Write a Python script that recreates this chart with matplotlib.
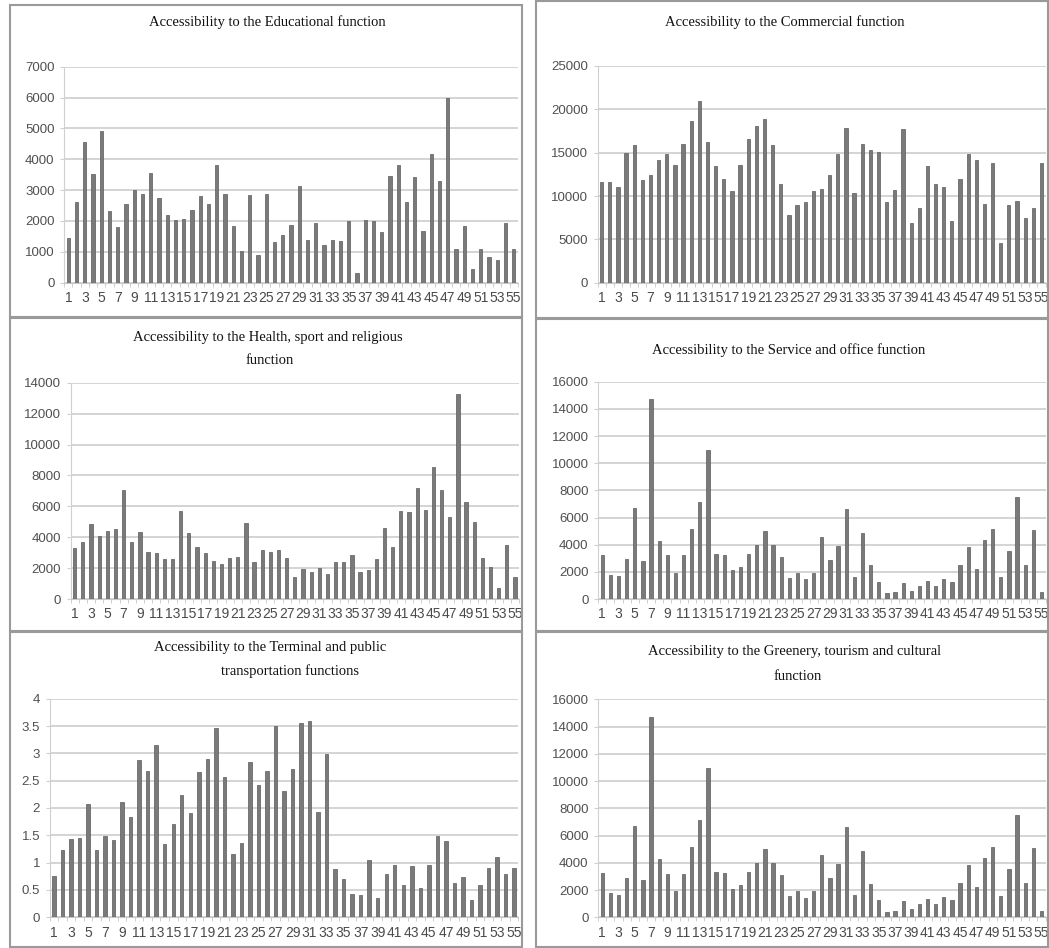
import numpy as np
import matplotlib
matplotlib.use("Agg")
import matplotlib.pyplot as plt
from matplotlib.patches import Rectangle

# values (55 zones each)
educational = [1440, 2600, 4550, 3510, 4910, 2320, 1800, 2560, 3020, 2890,
               3540, 2730, 2190, 2040, 2080, 2340, 2820, 2560, 3830, 2880,
               1830, 1030, 2850, 900, 2890, 1310, 1530, 1870, 3130, 1380,
               1950, 1220, 1370, 1340, 2000, 330, 2030, 1990, 1650, 3470,
               3820, 2620, 3440, 1670, 4180, 3300, 6000, 1080, 1850, 460,
               1080, 840, 730, 1950, 1100]

commercial = [11600, 11600, 11000, 15000, 15900, 11900, 12400, 14100, 14880, 13580,
              15960, 18690, 20960, 16190, 13460, 11920, 10580, 13580, 16540, 18040,
              18920, 15850, 11420, 7830, 8920, 9350, 10620, 10770, 12420, 14880,
              17880, 10380, 15960, 15350, 15120, 9310, 10690, 17730, 6920, 8620,
              13460, 11420, 11080, 7150, 11920, 14880, 14190, 9120, 13850, 4540,
              8920, 9460, 7460, 8650, 13850]

health = [3280, 3690, 4830, 4060, 4380, 4550, 7050, 3690, 4360, 3060,
          3000, 2610, 2610, 5720, 4250, 3340, 2960, 2480, 2240, 2650,
          2740, 4900, 2390, 3170, 3020, 3150, 2650, 1400, 1920, 1750,
          2010, 1620, 2420, 2420, 2870, 1730, 1880, 2590, 4600, 3370,
          5700, 5610, 7210, 5740, 8520, 7050, 5290, 13270, 6260, 4960,
          2630, 2050, 710, 3470, 1450]

service = [3240, 1770, 1670, 2920, 6720, 2770, 14720, 4290, 3210, 1940,
           3210, 5180, 7140, 10940, 3310, 3260, 2110, 2380, 3340, 3980,
           4980, 3950, 3070, 1550, 1940, 1450, 1940, 4560, 2850, 3900,
           6630, 1640, 4880, 2480, 1280, 420, 490, 1200, 610, 980,
           1350, 980, 1500, 1250, 2530, 3830, 2210, 4340, 5150, 1600,
           3510, 7530, 2530, 5100, 490]

terminal = [0.76, 1.23, 1.44, 1.45, 2.08, 1.23, 1.49, 1.41, 2.11, 1.84,
            2.88, 2.68, 3.15, 1.34, 1.71, 2.24, 1.91, 2.66, 2.90, 3.46,
            2.57, 1.16, 1.36, 2.84, 2.43, 2.67, 3.50, 2.31, 2.71, 3.56,
            3.59, 1.93, 2.99, 0.89, 0.70, 0.42, 0.40, 1.04, 0.36, 0.79,
            0.95, 0.60, 0.93, 0.53, 0.95, 1.48, 1.40, 0.62, 0.74, 0.32,
            0.60, 0.91, 1.10, 0.79, 0.91]

greenery = [3240, 1770, 1670, 2920, 6720, 2770, 14720, 4290, 3210, 1940,
            3210, 5180, 7140, 10940, 3310, 3260, 2110, 2380, 3340, 3980,
            4980, 3950, 3070, 1550, 1940, 1450, 1940, 4560, 2850, 3900,
            6630, 1640, 4880, 2480, 1280, 420, 490, 1200, 610, 980,
            1350, 980, 1500, 1250, 2530, 3830, 2210, 4340, 5150, 1600,
            3510, 7530, 2530, 5100, 490]

zones = np.arange(1, 56)

W, H = 1049, 948
fig = plt.figure(figsize=(W / 100, H / 100), dpi=100)

def px_axes(x0, x1, ytop, ybot):
    return fig.add_axes([x0 / W, 1 - ybot / H, (x1 - x0) / W, (ybot - ytop) / H])

def panel(ax, vals, ymax, step, fmt="{:g}"):
    ax.bar(zones, vals, width=0.4, color="#7a7a7a", edgecolor="#5a5a5a", linewidth=0.5, zorder=3)
    ax.set_xlim(0.5, 55.5)
    ax.set_ylim(0, ymax)
    yt = np.arange(0, ymax + step / 2, step)
    ax.set_yticks(yt)
    ax.set_yticklabels([fmt.format(v) for v in yt])
    ax.set_xticks(zones[::2])
    ax.set_xticklabels([str(z) for z in zones[::2]])
    ax.set_xticks(np.arange(0.5, 56, 1), minor=True)
    ax.grid(axis="y", color="#d4d4d4", linewidth=1.4, zorder=0)
    for s in ["top", "right"]:
        ax.spines[s].set_visible(False)
    ax.spines["left"].set_color("#d0d0d0")
    ax.spines["bottom"].set_color("#c8c8c8")
    ax.tick_params(axis="x", which="major", length=0, pad=6, labelsize=10, labelcolor="#4a4a4a")
    ax.tick_params(axis="x", which="minor", length=3, color="#c8c8c8")
    ax.tick_params(axis="y", length=3, color="#d0d0d0", pad=4, labelsize=9.5, labelcolor="#505050")
    for lab in ax.get_xticklabels() + ax.get_yticklabels():
        lab.set_fontfamily("Liberation Sans")

# panel frames
for (x0, y0, x1, y1) in [(10, 5, 522, 317), (536, 1, 1048, 318),
                         (10, 318, 522, 631), (536, 319, 1048, 631),
                         (10, 632, 522, 947), (536, 632, 1048, 947)]:
    fig.patches.append(Rectangle((x0 / W, 1 - y1 / H), (x1 - x0) / W, (y1 - y0) / H,
                                 transform=fig.transFigure, fill=False,
                                 edgecolor="#9a9a9a", linewidth=1.5))

ax1 = px_axes(64.2, 517.8, 66.7, 282.7)
panel(ax1, educational, 7000, 1000)
ax2 = px_axes(597.6, 1045.5, 66.0, 282.7)
panel(ax2, commercial, 25000, 5000)
ax3 = px_axes(70.6, 519.1, 382.7, 599.0)
panel(ax3, health, 14000, 2000)
ax4 = px_axes(598.2, 1045.5, 381.7, 599.0)
panel(ax4, service, 16000, 2000)
ax5 = px_axes(49.7, 518.3, 698.7, 917.3)
panel(ax5, terminal, 4, 0.5)
ax6 = px_axes(598.2, 1045.5, 699.3, 917.3)
panel(ax6, greenery, 16000, 2000)

def title(x, y, s):
    fig.text(x / W, 1 - y / H, s, ha="center", va="center", fontsize=10.5,
             family="Liberation Serif", color="#111111")

title(267, 22, "Accessibility to the Educational function")
title(785, 22, "Accessibility to the Commercial function")
title(268, 338, "Accessibility to the Health, sport and religious")
title(270, 361, "function")
title(789, 350, "Accessibility to the Service and office function")
title(270, 647, "Accessibility to the Terminal and public")
title(290, 671, "transportation functions")
title(795, 652, "Accessibility to the Greenery, tourism and cultural")
title(798, 677, "function")

fig.savefig("out.png", dpi=100)
